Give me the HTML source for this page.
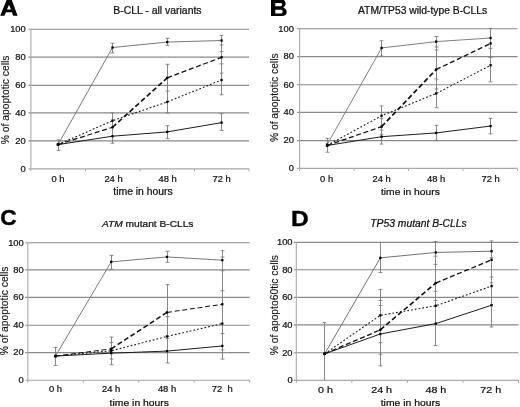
<!DOCTYPE html>
<html><head><meta charset="utf-8"><style>
html,body{margin:0;padding:0;background:#fff;}
body{width:520px;height:407px;overflow:hidden;}
svg{display:block;font-family:"Liberation Sans", sans-serif;will-change:transform;filter:blur(0.25px);}
text{stroke:#000;stroke-width:0.22px;paint-order:stroke;}
text.big{stroke:#000;stroke-width:0.4px;}
</style></head><body>
<svg width="520" height="407" viewBox="0 0 520 407">
<rect width="520" height="407" fill="#fff"/>
<line x1="28.40" y1="140.85" x2="249.00" y2="140.85" stroke="#8a8a8a" stroke-width="1.1"/>
<line x1="28.40" y1="112.90" x2="249.00" y2="112.90" stroke="#8a8a8a" stroke-width="1.1"/>
<line x1="28.40" y1="85.40" x2="249.00" y2="85.40" stroke="#8a8a8a" stroke-width="1.1"/>
<line x1="28.40" y1="57.10" x2="249.00" y2="57.10" stroke="#8a8a8a" stroke-width="1.1"/>
<line x1="28.40" y1="29.20" x2="249.00" y2="29.20" stroke="#8a8a8a" stroke-width="1.1"/>
<line x1="30.90" y1="28.70" x2="30.90" y2="168.85" stroke="#a8a8a8" stroke-width="1.1"/>
<line x1="28.40" y1="168.85" x2="249.00" y2="168.85" stroke="#a8a8a8" stroke-width="1.1"/>
<line x1="30.90" y1="168.85" x2="30.90" y2="171.35" stroke="#a8a8a8" stroke-width="1"/>
<line x1="85.42" y1="168.85" x2="85.42" y2="171.35" stroke="#a8a8a8" stroke-width="1"/>
<line x1="139.95" y1="168.85" x2="139.95" y2="171.35" stroke="#a8a8a8" stroke-width="1"/>
<line x1="194.47" y1="168.85" x2="194.47" y2="171.35" stroke="#a8a8a8" stroke-width="1"/>
<line x1="249.00" y1="168.85" x2="249.00" y2="171.35" stroke="#a8a8a8" stroke-width="1"/>
<text x="25.80" y="171.65" text-anchor="end" style="font-size:9.4px;" fill="#111" >0</text>
<text x="25.80" y="143.65" text-anchor="end" style="font-size:9.4px;" fill="#111" >20</text>
<text x="25.80" y="115.70" text-anchor="end" style="font-size:9.4px;" fill="#111" >40</text>
<text x="25.80" y="88.20" text-anchor="end" style="font-size:9.4px;" fill="#111" >60</text>
<text x="25.80" y="59.90" text-anchor="end" style="font-size:9.4px;" fill="#111" >80</text>
<text x="25.80" y="32.00" text-anchor="end" style="font-size:9.4px;" fill="#111" >100</text>
<text xml:space="preserve" x="58.00" y="182.00" text-anchor="middle" style="font-size:9.4px;" fill="#111" >0 h</text>
<text xml:space="preserve" x="113.50" y="182.00" text-anchor="middle" style="font-size:9.4px;" fill="#111" >24 h</text>
<text xml:space="preserve" x="167.70" y="182.00" text-anchor="middle" style="font-size:9.4px;" fill="#111" >48 h</text>
<text xml:space="preserve" x="221.60" y="182.00" text-anchor="middle" style="font-size:9.4px;" fill="#111" >72 h</text>
<text transform="translate(113.30,195.00) scale(1.04,1)" text-anchor="start" style="font-size:10px;stroke-width:0.22px;" fill="#111" >time in hours</text>
<text transform="translate(8.60,99.90) rotate(-90) scale(1.03,1)" text-anchor="middle" style="font-size:10px;stroke-width:0.1px" fill="#111">% of apoptotic cells</text>
<text xml:space="preserve" transform="translate(113.20,14.20) scale(1.045,1)" style="font-size:10px" fill="#111"><tspan style="font-style:normal">B-CLL - all variants</tspan></text>
<path fill="#000" fill-rule="evenodd" d="M0.2,15.75 L6.8,-0.5 L11.6,-0.5 L17.6,15.75 L13.2,15.75 L11.85,12.15 L5.9,12.15 L4.4,15.75 Z M9.0,4.8 L6.95,9.4 L11.0,9.4 Z"/>
<line x1="58.50" y1="139.85" x2="58.50" y2="150.34" stroke="#7a7a7a" stroke-width="0.9"/>
<line x1="56.60" y1="150.34" x2="60.40" y2="150.34" stroke="#7a7a7a" stroke-width="0.9"/>
<line x1="56.60" y1="139.85" x2="60.40" y2="139.85" stroke="#7a7a7a" stroke-width="0.9"/>
<line x1="112.50" y1="43.18" x2="112.50" y2="52.97" stroke="#7a7a7a" stroke-width="0.9"/>
<line x1="112.50" y1="112.85" x2="112.50" y2="143.21" stroke="#7a7a7a" stroke-width="0.9"/>
<line x1="110.60" y1="52.97" x2="114.40" y2="52.97" stroke="#7a7a7a" stroke-width="0.9"/>
<line x1="110.60" y1="43.18" x2="114.40" y2="43.18" stroke="#7a7a7a" stroke-width="0.9"/>
<line x1="110.60" y1="112.85" x2="114.40" y2="112.85" stroke="#7a7a7a" stroke-width="0.9"/>
<line x1="110.60" y1="143.21" x2="114.40" y2="143.21" stroke="#7a7a7a" stroke-width="0.9"/>
<line x1="167.50" y1="38.28" x2="167.50" y2="45.28" stroke="#7a7a7a" stroke-width="0.9"/>
<line x1="167.50" y1="64.30" x2="167.50" y2="112.99" stroke="#7a7a7a" stroke-width="0.9"/>
<line x1="167.50" y1="125.72" x2="167.50" y2="138.59" stroke="#7a7a7a" stroke-width="0.9"/>
<line x1="165.60" y1="45.28" x2="169.40" y2="45.28" stroke="#7a7a7a" stroke-width="0.9"/>
<line x1="165.60" y1="38.28" x2="169.40" y2="38.28" stroke="#7a7a7a" stroke-width="0.9"/>
<line x1="165.60" y1="64.30" x2="169.40" y2="64.30" stroke="#7a7a7a" stroke-width="0.9"/>
<line x1="165.60" y1="91.03" x2="169.40" y2="91.03" stroke="#7a7a7a" stroke-width="0.9"/>
<line x1="165.60" y1="112.99" x2="169.40" y2="112.99" stroke="#7a7a7a" stroke-width="0.9"/>
<line x1="165.60" y1="125.72" x2="169.40" y2="125.72" stroke="#7a7a7a" stroke-width="0.9"/>
<line x1="165.60" y1="138.59" x2="169.40" y2="138.59" stroke="#7a7a7a" stroke-width="0.9"/>
<line x1="221.50" y1="35.49" x2="221.50" y2="94.80" stroke="#7a7a7a" stroke-width="0.9"/>
<line x1="221.50" y1="113.69" x2="221.50" y2="130.48" stroke="#7a7a7a" stroke-width="0.9"/>
<line x1="219.60" y1="35.49" x2="223.40" y2="35.49" stroke="#7a7a7a" stroke-width="0.9"/>
<line x1="219.60" y1="45.00" x2="223.40" y2="45.00" stroke="#7a7a7a" stroke-width="0.9"/>
<line x1="219.60" y1="51.57" x2="223.40" y2="51.57" stroke="#7a7a7a" stroke-width="0.9"/>
<line x1="219.60" y1="63.89" x2="223.40" y2="63.89" stroke="#7a7a7a" stroke-width="0.9"/>
<line x1="219.60" y1="73.12" x2="223.40" y2="73.12" stroke="#7a7a7a" stroke-width="0.9"/>
<line x1="219.60" y1="94.80" x2="223.40" y2="94.80" stroke="#7a7a7a" stroke-width="0.9"/>
<line x1="219.60" y1="113.69" x2="223.40" y2="113.69" stroke="#7a7a7a" stroke-width="0.9"/>
<line x1="219.60" y1="130.48" x2="223.40" y2="130.48" stroke="#7a7a7a" stroke-width="0.9"/>
<polyline points="58.00,144.61 112.50,47.52 167.20,42.06 221.60,40.52" fill="none" stroke="#7a7a7a" stroke-width="1.0"/>
<polyline points="58.00,144.61 112.50,136.21 167.20,131.88 221.60,122.64" fill="none" stroke="#111" stroke-width="0.95"/>
<polyline points="58.00,144.61 112.50,120.68 167.20,101.94 221.60,79.97" fill="none" stroke="#1a1a1a" stroke-width="1.1" stroke-dasharray="1.8,2.0"/>
<line x1="58.00" y1="144.61" x2="112.50" y2="127.26" stroke="#111" stroke-width="1.21" stroke-dasharray="5,2.7"/>
<line x1="112.50" y1="127.26" x2="167.20" y2="77.88" stroke="#111" stroke-width="1.65" stroke-dasharray="5,2.7"/>
<line x1="167.20" y1="77.88" x2="221.60" y2="57.31" stroke="#111" stroke-width="1.27" stroke-dasharray="5,2.7"/>
<rect x="56.85" y="143.46" width="2.3" height="2.3" fill="#000"/>
<rect x="111.35" y="46.37" width="2.3" height="2.3" fill="#000"/>
<rect x="166.05" y="40.91" width="2.3" height="2.3" fill="#000"/>
<rect x="220.45" y="39.37" width="2.3" height="2.3" fill="#000"/>
<rect x="56.85" y="143.46" width="2.3" height="2.3" fill="#000"/>
<rect x="111.35" y="126.11" width="2.3" height="2.3" fill="#000"/>
<rect x="166.05" y="76.73" width="2.3" height="2.3" fill="#000"/>
<rect x="220.45" y="56.16" width="2.3" height="2.3" fill="#000"/>
<rect x="56.85" y="143.46" width="2.3" height="2.3" fill="#000"/>
<rect x="111.35" y="119.53" width="2.3" height="2.3" fill="#000"/>
<rect x="166.05" y="100.79" width="2.3" height="2.3" fill="#000"/>
<rect x="220.45" y="78.82" width="2.3" height="2.3" fill="#000"/>
<rect x="56.85" y="143.46" width="2.3" height="2.3" fill="#000"/>
<rect x="111.35" y="135.06" width="2.3" height="2.3" fill="#000"/>
<rect x="166.05" y="130.73" width="2.3" height="2.3" fill="#000"/>
<rect x="220.45" y="121.49" width="2.3" height="2.3" fill="#000"/>
<line x1="297.10" y1="140.65" x2="517.50" y2="140.65" stroke="#8a8a8a" stroke-width="1.1"/>
<line x1="297.10" y1="112.40" x2="517.50" y2="112.40" stroke="#8a8a8a" stroke-width="1.1"/>
<line x1="297.10" y1="84.70" x2="517.50" y2="84.70" stroke="#8a8a8a" stroke-width="1.1"/>
<line x1="297.10" y1="56.60" x2="517.50" y2="56.60" stroke="#8a8a8a" stroke-width="1.1"/>
<line x1="297.10" y1="28.70" x2="517.50" y2="28.70" stroke="#8a8a8a" stroke-width="1.1"/>
<line x1="299.60" y1="28.20" x2="299.60" y2="168.40" stroke="#a8a8a8" stroke-width="1.1"/>
<line x1="297.10" y1="168.40" x2="517.50" y2="168.40" stroke="#a8a8a8" stroke-width="1.1"/>
<line x1="299.60" y1="168.40" x2="299.60" y2="170.90" stroke="#a8a8a8" stroke-width="1"/>
<line x1="354.08" y1="168.40" x2="354.08" y2="170.90" stroke="#a8a8a8" stroke-width="1"/>
<line x1="408.55" y1="168.40" x2="408.55" y2="170.90" stroke="#a8a8a8" stroke-width="1"/>
<line x1="463.02" y1="168.40" x2="463.02" y2="170.90" stroke="#a8a8a8" stroke-width="1"/>
<line x1="517.50" y1="168.40" x2="517.50" y2="170.90" stroke="#a8a8a8" stroke-width="1"/>
<text x="294.00" y="171.20" text-anchor="end" style="font-size:9.4px;" fill="#111" >0</text>
<text x="294.00" y="143.45" text-anchor="end" style="font-size:9.4px;" fill="#111" >20</text>
<text x="294.00" y="115.20" text-anchor="end" style="font-size:9.4px;" fill="#111" >40</text>
<text x="294.00" y="87.50" text-anchor="end" style="font-size:9.4px;" fill="#111" >60</text>
<text x="294.00" y="59.40" text-anchor="end" style="font-size:9.4px;" fill="#111" >80</text>
<text x="294.00" y="31.50" text-anchor="end" style="font-size:9.4px;" fill="#111" >100</text>
<text xml:space="preserve" x="326.60" y="182.00" text-anchor="middle" style="font-size:9.4px;" fill="#111" >0 h</text>
<text xml:space="preserve" x="381.60" y="182.00" text-anchor="middle" style="font-size:9.4px;" fill="#111" >24 h</text>
<text xml:space="preserve" x="436.10" y="182.00" text-anchor="middle" style="font-size:9.4px;" fill="#111" >48 h</text>
<text xml:space="preserve" x="490.60" y="182.00" text-anchor="middle" style="font-size:9.4px;" fill="#111" >72 h</text>
<text transform="translate(380.90,194.50) scale(1.085,1)" text-anchor="start" style="font-size:9.5px;stroke-width:0.22px;" fill="#111" >time in hours</text>
<text transform="translate(278.40,97.75) rotate(-90) scale(1.03,1)" text-anchor="middle" style="font-size:10px;stroke-width:0.1px" fill="#111">% of apoptotic cells</text>
<text xml:space="preserve" x="358.00" y="14.30" style="font-size:10.3px" fill="#111"><tspan style="font-style:normal">ATM/TP53 wild-type B-CLLs</tspan></text>
<path fill="#000" fill-rule="evenodd" d="M271,-0.5 H281.2 C284.0,-0.5 285.6,1.2 285.6,3.6 C285.6,5.4 284.6,6.7 283.2,7.6 C285.3,8.2 286.7,9.9 286.7,12.2 C286.7,14.6 284.9,16.0 281.8,16.0 H271 Z M275.3,2.9 H280.4 C281.5,2.9 282.1,3.6 282.1,4.6 C282.1,5.6 281.5,6.3 280.4,6.3 H275.3 Z M275.3,9.8 H280.8 C282.0,9.8 282.6,10.6 282.6,11.65 C282.6,12.7 282.0,13.5 280.8,13.5 H275.3 Z"/>
<line x1="327.50" y1="138.36" x2="327.50" y2="152.20" stroke="#7a7a7a" stroke-width="0.9"/>
<line x1="325.60" y1="152.20" x2="329.40" y2="152.20" stroke="#7a7a7a" stroke-width="0.9"/>
<line x1="325.60" y1="138.36" x2="329.40" y2="138.36" stroke="#7a7a7a" stroke-width="0.9"/>
<line x1="381.50" y1="40.78" x2="381.50" y2="56.02" stroke="#7a7a7a" stroke-width="0.9"/>
<line x1="381.50" y1="105.93" x2="381.50" y2="144.10" stroke="#7a7a7a" stroke-width="0.9"/>
<line x1="379.60" y1="40.78" x2="383.40" y2="40.78" stroke="#7a7a7a" stroke-width="0.9"/>
<line x1="379.60" y1="56.02" x2="383.40" y2="56.02" stroke="#7a7a7a" stroke-width="0.9"/>
<line x1="379.60" y1="105.93" x2="383.40" y2="105.93" stroke="#7a7a7a" stroke-width="0.9"/>
<line x1="379.60" y1="118.65" x2="383.40" y2="118.65" stroke="#7a7a7a" stroke-width="0.9"/>
<line x1="379.60" y1="130.12" x2="383.40" y2="130.12" stroke="#7a7a7a" stroke-width="0.9"/>
<line x1="379.60" y1="134.31" x2="383.40" y2="134.31" stroke="#7a7a7a" stroke-width="0.9"/>
<line x1="379.60" y1="144.10" x2="383.40" y2="144.10" stroke="#7a7a7a" stroke-width="0.9"/>
<line x1="436.50" y1="36.45" x2="436.50" y2="107.75" stroke="#7a7a7a" stroke-width="0.9"/>
<line x1="436.50" y1="125.36" x2="436.50" y2="140.32" stroke="#7a7a7a" stroke-width="0.9"/>
<line x1="434.60" y1="36.45" x2="438.40" y2="36.45" stroke="#7a7a7a" stroke-width="0.9"/>
<line x1="434.60" y1="46.93" x2="438.40" y2="46.93" stroke="#7a7a7a" stroke-width="0.9"/>
<line x1="434.60" y1="50.01" x2="438.40" y2="50.01" stroke="#7a7a7a" stroke-width="0.9"/>
<line x1="434.60" y1="79.09" x2="438.40" y2="79.09" stroke="#7a7a7a" stroke-width="0.9"/>
<line x1="434.60" y1="88.87" x2="438.40" y2="88.87" stroke="#7a7a7a" stroke-width="0.9"/>
<line x1="434.60" y1="107.75" x2="438.40" y2="107.75" stroke="#7a7a7a" stroke-width="0.9"/>
<line x1="434.60" y1="125.36" x2="438.40" y2="125.36" stroke="#7a7a7a" stroke-width="0.9"/>
<line x1="434.60" y1="140.32" x2="438.40" y2="140.32" stroke="#7a7a7a" stroke-width="0.9"/>
<line x1="490.50" y1="28.48" x2="490.50" y2="81.88" stroke="#7a7a7a" stroke-width="0.9"/>
<line x1="490.50" y1="118.37" x2="490.50" y2="133.89" stroke="#7a7a7a" stroke-width="0.9"/>
<line x1="488.60" y1="28.48" x2="492.40" y2="28.48" stroke="#7a7a7a" stroke-width="0.9"/>
<line x1="488.60" y1="48.33" x2="492.40" y2="48.33" stroke="#7a7a7a" stroke-width="0.9"/>
<line x1="488.60" y1="57.42" x2="492.40" y2="57.42" stroke="#7a7a7a" stroke-width="0.9"/>
<line x1="488.60" y1="81.88" x2="492.40" y2="81.88" stroke="#7a7a7a" stroke-width="0.9"/>
<line x1="488.60" y1="118.37" x2="492.40" y2="118.37" stroke="#7a7a7a" stroke-width="0.9"/>
<line x1="488.60" y1="133.89" x2="492.40" y2="133.89" stroke="#7a7a7a" stroke-width="0.9"/>
<polyline points="327.10,144.65 381.60,47.91 436.10,41.62 490.60,37.99" fill="none" stroke="#808080" stroke-width="1.0"/>
<polyline points="327.10,145.49 381.60,136.69 436.10,132.91 490.60,126.06" fill="none" stroke="#111" stroke-width="0.95"/>
<polyline points="327.10,145.49 381.60,115.72 436.10,93.49 490.60,65.25" fill="none" stroke="#1a1a1a" stroke-width="1.1" stroke-dasharray="1.8,2.0"/>
<line x1="327.10" y1="145.49" x2="381.60" y2="126.62" stroke="#111" stroke-width="1.24" stroke-dasharray="5,2.7"/>
<line x1="381.60" y1="126.62" x2="436.10" y2="69.58" stroke="#111" stroke-width="1.72" stroke-dasharray="5,2.7"/>
<line x1="436.10" y1="69.58" x2="490.60" y2="43.44" stroke="#111" stroke-width="1.37" stroke-dasharray="5,2.7"/>
<rect x="325.95" y="143.50" width="2.3" height="2.3" fill="#000"/>
<rect x="380.45" y="46.76" width="2.3" height="2.3" fill="#000"/>
<rect x="434.95" y="40.47" width="2.3" height="2.3" fill="#000"/>
<rect x="489.45" y="36.84" width="2.3" height="2.3" fill="#000"/>
<rect x="325.95" y="144.34" width="2.3" height="2.3" fill="#000"/>
<rect x="380.45" y="125.47" width="2.3" height="2.3" fill="#000"/>
<rect x="434.95" y="68.43" width="2.3" height="2.3" fill="#000"/>
<rect x="489.45" y="42.29" width="2.3" height="2.3" fill="#000"/>
<rect x="325.95" y="144.34" width="2.3" height="2.3" fill="#000"/>
<rect x="380.45" y="114.57" width="2.3" height="2.3" fill="#000"/>
<rect x="434.95" y="92.34" width="2.3" height="2.3" fill="#000"/>
<rect x="489.45" y="64.10" width="2.3" height="2.3" fill="#000"/>
<rect x="325.95" y="144.34" width="2.3" height="2.3" fill="#000"/>
<rect x="380.45" y="135.54" width="2.3" height="2.3" fill="#000"/>
<rect x="434.95" y="131.76" width="2.3" height="2.3" fill="#000"/>
<rect x="489.45" y="124.91" width="2.3" height="2.3" fill="#000"/>
<line x1="25.30" y1="352.60" x2="249.70" y2="352.60" stroke="#8a8a8a" stroke-width="1.1"/>
<line x1="25.30" y1="325.20" x2="249.70" y2="325.20" stroke="#8a8a8a" stroke-width="1.1"/>
<line x1="25.30" y1="297.40" x2="249.70" y2="297.40" stroke="#8a8a8a" stroke-width="1.1"/>
<line x1="25.30" y1="269.90" x2="249.70" y2="269.90" stroke="#8a8a8a" stroke-width="1.1"/>
<line x1="25.30" y1="242.70" x2="249.70" y2="242.70" stroke="#8a8a8a" stroke-width="1.1"/>
<line x1="27.80" y1="242.20" x2="27.80" y2="380.20" stroke="#a8a8a8" stroke-width="1.1"/>
<line x1="25.30" y1="380.20" x2="249.70" y2="380.20" stroke="#a8a8a8" stroke-width="1.1"/>
<line x1="27.80" y1="380.20" x2="27.80" y2="382.70" stroke="#a8a8a8" stroke-width="1"/>
<line x1="83.27" y1="380.20" x2="83.27" y2="382.70" stroke="#a8a8a8" stroke-width="1"/>
<line x1="138.75" y1="380.20" x2="138.75" y2="382.70" stroke="#a8a8a8" stroke-width="1"/>
<line x1="194.22" y1="380.20" x2="194.22" y2="382.70" stroke="#a8a8a8" stroke-width="1"/>
<line x1="249.70" y1="380.20" x2="249.70" y2="382.70" stroke="#a8a8a8" stroke-width="1"/>
<text x="23.80" y="383.00" text-anchor="end" style="font-size:9.4px;" fill="#111" >0</text>
<text x="23.80" y="355.40" text-anchor="end" style="font-size:9.4px;" fill="#111" >20</text>
<text x="23.80" y="328.00" text-anchor="end" style="font-size:9.4px;" fill="#111" >40</text>
<text x="23.80" y="300.20" text-anchor="end" style="font-size:9.4px;" fill="#111" >60</text>
<text x="23.80" y="272.70" text-anchor="end" style="font-size:9.4px;" fill="#111" >80</text>
<text x="23.80" y="245.50" text-anchor="end" style="font-size:9.4px;" fill="#111" >100</text>
<text xml:space="preserve" x="55.50" y="392.00" text-anchor="middle" style="font-size:9.4px;" fill="#111" >0 h</text>
<text xml:space="preserve" x="111.20" y="392.00" text-anchor="middle" style="font-size:9.4px;" fill="#111" >24 h</text>
<text xml:space="preserve" x="167.00" y="392.00" text-anchor="middle" style="font-size:9.4px;" fill="#111" >48 h</text>
<text xml:space="preserve" x="222.30" y="392.00" text-anchor="middle" style="font-size:9.4px;" fill="#111" >72  h</text>
<text transform="translate(109.60,406.30) scale(1.13,1)" text-anchor="start" style="font-size:9.2px;stroke-width:0.22px;" fill="#111" >time in hours</text>
<text transform="translate(8.00,311.00) rotate(-90) scale(1.03,1)" text-anchor="middle" style="font-size:10px;stroke-width:0.1px" fill="#111">% of apoptotic cells</text>
<text xml:space="preserve" transform="translate(101.90,226.80) scale(1.063,1)" style="font-size:9.6px" fill="#111"><tspan style="font-style:italic">ATM</tspan><tspan style="font-style:normal"> mutant B-CLLs</tspan></text>
<text transform="translate(0.37,225.20) scale(1.0,1)" class="big" style="font-size:22.8px;font-weight:bold" fill="#000">C</text>
<line x1="55.50" y1="347.49" x2="55.50" y2="365.45" stroke="#7a7a7a" stroke-width="0.9"/>
<line x1="53.60" y1="365.45" x2="57.40" y2="365.45" stroke="#7a7a7a" stroke-width="0.9"/>
<line x1="53.60" y1="347.49" x2="57.40" y2="347.49" stroke="#7a7a7a" stroke-width="0.9"/>
<line x1="111.50" y1="255.38" x2="111.50" y2="269.19" stroke="#7a7a7a" stroke-width="0.9"/>
<line x1="111.50" y1="337.00" x2="111.50" y2="364.76" stroke="#7a7a7a" stroke-width="0.9"/>
<line x1="109.60" y1="255.38" x2="113.40" y2="255.38" stroke="#7a7a7a" stroke-width="0.9"/>
<line x1="109.60" y1="269.19" x2="113.40" y2="269.19" stroke="#7a7a7a" stroke-width="0.9"/>
<line x1="109.60" y1="337.00" x2="113.40" y2="337.00" stroke="#7a7a7a" stroke-width="0.9"/>
<line x1="109.60" y1="342.52" x2="113.40" y2="342.52" stroke="#7a7a7a" stroke-width="0.9"/>
<line x1="109.60" y1="359.09" x2="113.40" y2="359.09" stroke="#7a7a7a" stroke-width="0.9"/>
<line x1="109.60" y1="364.76" x2="113.40" y2="364.76" stroke="#7a7a7a" stroke-width="0.9"/>
<line x1="167.50" y1="251.24" x2="167.50" y2="262.29" stroke="#7a7a7a" stroke-width="0.9"/>
<line x1="167.50" y1="284.66" x2="167.50" y2="362.96" stroke="#7a7a7a" stroke-width="0.9"/>
<line x1="165.60" y1="251.24" x2="169.40" y2="251.24" stroke="#7a7a7a" stroke-width="0.9"/>
<line x1="165.60" y1="262.29" x2="169.40" y2="262.29" stroke="#7a7a7a" stroke-width="0.9"/>
<line x1="165.60" y1="284.66" x2="169.40" y2="284.66" stroke="#7a7a7a" stroke-width="0.9"/>
<line x1="165.60" y1="316.56" x2="169.40" y2="316.56" stroke="#7a7a7a" stroke-width="0.9"/>
<line x1="165.60" y1="338.66" x2="169.40" y2="338.66" stroke="#7a7a7a" stroke-width="0.9"/>
<line x1="165.60" y1="362.96" x2="169.40" y2="362.96" stroke="#7a7a7a" stroke-width="0.9"/>
<line x1="222.50" y1="250.69" x2="222.50" y2="359.09" stroke="#7a7a7a" stroke-width="0.9"/>
<line x1="220.60" y1="250.69" x2="224.40" y2="250.69" stroke="#7a7a7a" stroke-width="0.9"/>
<line x1="220.60" y1="257.04" x2="224.40" y2="257.04" stroke="#7a7a7a" stroke-width="0.9"/>
<line x1="220.60" y1="270.71" x2="224.40" y2="270.71" stroke="#7a7a7a" stroke-width="0.9"/>
<line x1="220.60" y1="290.74" x2="224.40" y2="290.74" stroke="#7a7a7a" stroke-width="0.9"/>
<line x1="220.60" y1="333.55" x2="224.40" y2="333.55" stroke="#7a7a7a" stroke-width="0.9"/>
<line x1="220.60" y1="349.84" x2="224.40" y2="349.84" stroke="#7a7a7a" stroke-width="0.9"/>
<line x1="220.60" y1="359.09" x2="224.40" y2="359.09" stroke="#7a7a7a" stroke-width="0.9"/>
<polyline points="55.50,356.06 111.20,261.87 167.00,256.90 222.30,260.21" fill="none" stroke="#7a7a7a" stroke-width="1.0"/>
<polyline points="55.50,356.06 111.20,353.16 167.00,351.08 222.30,345.98" fill="none" stroke="#111" stroke-width="0.95"/>
<polyline points="55.50,356.06 111.20,350.81 167.00,336.45 222.30,323.60" fill="none" stroke="#1a1a1a" stroke-width="1.1" stroke-dasharray="1.8,2.0"/>
<line x1="55.50" y1="356.06" x2="111.20" y2="348.88" stroke="#111" stroke-width="1.00" stroke-dasharray="5,2.7"/>
<line x1="111.20" y1="348.88" x2="167.00" y2="312.42" stroke="#111" stroke-width="1.51" stroke-dasharray="5,2.7"/>
<line x1="167.00" y1="312.42" x2="222.30" y2="304.27" stroke="#111" stroke-width="1.02" stroke-dasharray="5,2.7"/>
<rect x="54.35" y="354.91" width="2.3" height="2.3" fill="#000"/>
<rect x="110.05" y="260.72" width="2.3" height="2.3" fill="#000"/>
<rect x="165.85" y="255.75" width="2.3" height="2.3" fill="#000"/>
<rect x="221.15" y="259.06" width="2.3" height="2.3" fill="#000"/>
<rect x="54.35" y="354.91" width="2.3" height="2.3" fill="#000"/>
<rect x="110.05" y="347.73" width="2.3" height="2.3" fill="#000"/>
<rect x="165.85" y="311.27" width="2.3" height="2.3" fill="#000"/>
<rect x="221.15" y="303.12" width="2.3" height="2.3" fill="#000"/>
<rect x="54.35" y="354.91" width="2.3" height="2.3" fill="#000"/>
<rect x="110.05" y="349.66" width="2.3" height="2.3" fill="#000"/>
<rect x="165.85" y="335.30" width="2.3" height="2.3" fill="#000"/>
<rect x="221.15" y="322.45" width="2.3" height="2.3" fill="#000"/>
<rect x="54.35" y="354.91" width="2.3" height="2.3" fill="#000"/>
<rect x="110.05" y="352.01" width="2.3" height="2.3" fill="#000"/>
<rect x="165.85" y="349.93" width="2.3" height="2.3" fill="#000"/>
<rect x="221.15" y="344.83" width="2.3" height="2.3" fill="#000"/>
<line x1="293.80" y1="352.70" x2="518.50" y2="352.70" stroke="#8a8a8a" stroke-width="1.1"/>
<line x1="293.80" y1="324.90" x2="518.50" y2="324.90" stroke="#8a8a8a" stroke-width="1.1"/>
<line x1="293.80" y1="297.40" x2="518.50" y2="297.40" stroke="#8a8a8a" stroke-width="1.1"/>
<line x1="293.80" y1="269.70" x2="518.50" y2="269.70" stroke="#8a8a8a" stroke-width="1.1"/>
<line x1="293.80" y1="242.40" x2="518.50" y2="242.40" stroke="#8a8a8a" stroke-width="1.1"/>
<line x1="296.30" y1="241.90" x2="296.30" y2="380.40" stroke="#a8a8a8" stroke-width="1.1"/>
<line x1="293.80" y1="380.40" x2="518.50" y2="380.40" stroke="#a8a8a8" stroke-width="1.1"/>
<line x1="296.30" y1="380.40" x2="296.30" y2="382.90" stroke="#a8a8a8" stroke-width="1"/>
<line x1="351.85" y1="380.40" x2="351.85" y2="382.90" stroke="#a8a8a8" stroke-width="1"/>
<line x1="407.40" y1="380.40" x2="407.40" y2="382.90" stroke="#a8a8a8" stroke-width="1"/>
<line x1="462.95" y1="380.40" x2="462.95" y2="382.90" stroke="#a8a8a8" stroke-width="1"/>
<line x1="518.50" y1="380.40" x2="518.50" y2="382.90" stroke="#a8a8a8" stroke-width="1"/>
<text x="292.60" y="383.20" text-anchor="end" style="font-size:9.4px;" fill="#111" >0</text>
<text x="292.60" y="355.50" text-anchor="end" style="font-size:9.4px;" fill="#111" >20</text>
<text x="292.60" y="327.70" text-anchor="end" style="font-size:9.4px;" fill="#111" >40</text>
<text x="292.60" y="300.20" text-anchor="end" style="font-size:9.4px;" fill="#111" >60</text>
<text x="292.60" y="272.50" text-anchor="end" style="font-size:9.4px;" fill="#111" >80</text>
<text x="292.60" y="245.20" text-anchor="end" style="font-size:9.4px;" fill="#111" >100</text>
<text xml:space="preserve" transform="translate(325.50,393.00) scale(1.14,1)" text-anchor="middle" style="font-size:9.4px;" fill="#111" >0 h</text>
<text xml:space="preserve" transform="translate(381.60,393.00) scale(1.14,1)" text-anchor="middle" style="font-size:9.4px;" fill="#111" >24 h</text>
<text xml:space="preserve" transform="translate(435.90,393.00) scale(1.14,1)" text-anchor="middle" style="font-size:9.4px;" fill="#111" >48 h</text>
<text xml:space="preserve" transform="translate(490.70,393.00) scale(1.14,1)" text-anchor="middle" style="font-size:9.4px;" fill="#111" >72 h</text>
<text transform="translate(380.70,406.30) scale(1.13,1)" text-anchor="start" style="font-size:9.2px;stroke-width:0.22px;" fill="#111" >time in hours</text>
<text transform="translate(277.50,305.20) rotate(-90) scale(1.0,1)" text-anchor="middle" style="font-size:10.3px;stroke-width:0.1px" fill="#111">% of apopto60tic cells</text>
<text xml:space="preserve" transform="translate(370.30,227.00) scale(1.032,1)" style="font-size:10px" fill="#111"><tspan style="font-style:italic">TP53 mutant B-CLLs</tspan></text>
<text transform="translate(291.10,225.80) scale(1.087,1)" class="big" style="font-size:22.6px;font-weight:bold" fill="#000">D</text>
<line x1="324.50" y1="322.51" x2="324.50" y2="380.80" stroke="#7a7a7a" stroke-width="0.9"/>
<line x1="322.60" y1="322.51" x2="326.40" y2="322.51" stroke="#7a7a7a" stroke-width="0.9"/>
<line x1="380.50" y1="242.35" x2="380.50" y2="272.53" stroke="#7a7a7a" stroke-width="0.9"/>
<line x1="380.50" y1="289.42" x2="380.50" y2="365.85" stroke="#7a7a7a" stroke-width="0.9"/>
<line x1="378.60" y1="272.53" x2="382.40" y2="272.53" stroke="#7a7a7a" stroke-width="0.9"/>
<line x1="378.60" y1="289.42" x2="382.40" y2="289.42" stroke="#7a7a7a" stroke-width="0.9"/>
<line x1="378.60" y1="300.50" x2="382.40" y2="300.50" stroke="#7a7a7a" stroke-width="0.9"/>
<line x1="378.60" y1="305.48" x2="382.40" y2="305.48" stroke="#7a7a7a" stroke-width="0.9"/>
<line x1="378.60" y1="342.59" x2="382.40" y2="342.59" stroke="#7a7a7a" stroke-width="0.9"/>
<line x1="378.60" y1="354.22" x2="382.40" y2="354.22" stroke="#7a7a7a" stroke-width="0.9"/>
<line x1="378.60" y1="365.85" x2="382.40" y2="365.85" stroke="#7a7a7a" stroke-width="0.9"/>
<line x1="435.50" y1="241.52" x2="435.50" y2="345.50" stroke="#7a7a7a" stroke-width="0.9"/>
<line x1="433.60" y1="241.52" x2="437.40" y2="241.52" stroke="#7a7a7a" stroke-width="0.9"/>
<line x1="433.60" y1="256.19" x2="437.40" y2="256.19" stroke="#7a7a7a" stroke-width="0.9"/>
<line x1="433.60" y1="264.36" x2="437.40" y2="264.36" stroke="#7a7a7a" stroke-width="0.9"/>
<line x1="433.60" y1="291.36" x2="437.40" y2="291.36" stroke="#7a7a7a" stroke-width="0.9"/>
<line x1="433.60" y1="300.50" x2="437.40" y2="300.50" stroke="#7a7a7a" stroke-width="0.9"/>
<line x1="433.60" y1="345.50" x2="437.40" y2="345.50" stroke="#7a7a7a" stroke-width="0.9"/>
<line x1="491.50" y1="240.97" x2="491.50" y2="326.94" stroke="#7a7a7a" stroke-width="0.9"/>
<line x1="489.60" y1="240.97" x2="493.40" y2="240.97" stroke="#7a7a7a" stroke-width="0.9"/>
<line x1="489.60" y1="257.86" x2="493.40" y2="257.86" stroke="#7a7a7a" stroke-width="0.9"/>
<line x1="489.60" y1="276.96" x2="493.40" y2="276.96" stroke="#7a7a7a" stroke-width="0.9"/>
<line x1="489.60" y1="282.92" x2="493.40" y2="282.92" stroke="#7a7a7a" stroke-width="0.9"/>
<line x1="489.60" y1="326.94" x2="493.40" y2="326.94" stroke="#7a7a7a" stroke-width="0.9"/>
<polyline points="324.70,353.80 380.30,257.86 435.80,252.46 491.60,251.21" fill="none" stroke="#737373" stroke-width="1.0"/>
<polyline points="324.70,353.80 380.30,334.00 435.80,323.62 491.60,305.21" fill="none" stroke="#111" stroke-width="0.95"/>
<polyline points="324.70,353.80 380.30,315.31 435.80,305.76 491.60,286.10" fill="none" stroke="#1a1a1a" stroke-width="1.1" stroke-dasharray="1.8,2.0"/>
<line x1="324.70" y1="353.80" x2="380.30" y2="329.85" stroke="#111" stroke-width="1.32" stroke-dasharray="5,2.7"/>
<line x1="380.30" y1="329.85" x2="435.80" y2="283.05" stroke="#111" stroke-width="1.62" stroke-dasharray="5,2.7"/>
<line x1="435.80" y1="283.05" x2="491.60" y2="259.79" stroke="#111" stroke-width="1.31" stroke-dasharray="5,2.7"/>
<rect x="323.55" y="352.65" width="2.3" height="2.3" fill="#000"/>
<rect x="379.15" y="256.71" width="2.3" height="2.3" fill="#000"/>
<rect x="434.65" y="251.31" width="2.3" height="2.3" fill="#000"/>
<rect x="490.45" y="250.06" width="2.3" height="2.3" fill="#000"/>
<rect x="323.55" y="352.65" width="2.3" height="2.3" fill="#000"/>
<rect x="379.15" y="328.70" width="2.3" height="2.3" fill="#000"/>
<rect x="434.65" y="281.90" width="2.3" height="2.3" fill="#000"/>
<rect x="490.45" y="258.64" width="2.3" height="2.3" fill="#000"/>
<rect x="323.55" y="352.65" width="2.3" height="2.3" fill="#000"/>
<rect x="379.15" y="314.16" width="2.3" height="2.3" fill="#000"/>
<rect x="434.65" y="304.61" width="2.3" height="2.3" fill="#000"/>
<rect x="490.45" y="284.95" width="2.3" height="2.3" fill="#000"/>
<rect x="323.55" y="352.65" width="2.3" height="2.3" fill="#000"/>
<rect x="379.15" y="332.85" width="2.3" height="2.3" fill="#000"/>
<rect x="434.65" y="322.47" width="2.3" height="2.3" fill="#000"/>
<rect x="490.45" y="304.06" width="2.3" height="2.3" fill="#000"/>
</svg>
</body></html>
